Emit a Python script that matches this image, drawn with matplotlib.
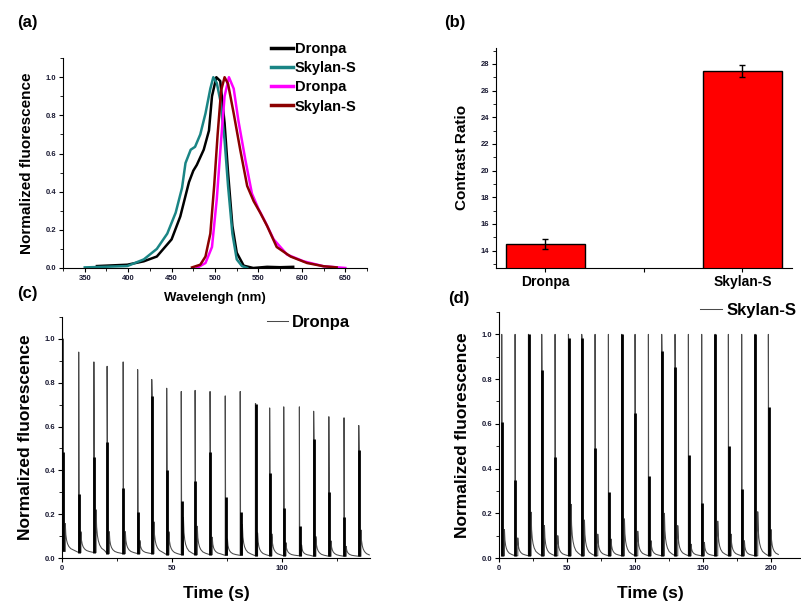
import matplotlib
matplotlib.use('Agg')
import matplotlib.pyplot as plt
import numpy as np

plt.rcParams['font.family'] = ['Liberation Sans', 'DejaVu Sans']

# ---- panel (a): spectra (nm, normalized) ----
dronpa_ex_x = [364, 399, 418, 433, 450, 460, 470, 475, 479, 487, 493, 496.5, 501.5, 506, 511, 515, 520, 525, 533, 544, 560, 575, 590]
dronpa_ex_y = [0.01, 0.017, 0.035, 0.06, 0.15, 0.27, 0.45, 0.51, 0.54, 0.62, 0.72, 0.90, 1.0, 0.98, 0.76, 0.50, 0.22, 0.08, 0.012, 0.0, 0.006, 0.004, 0.006]
skylan_ex_x = [350, 399, 418, 433, 445, 454.7, 462, 466, 472, 477, 483, 489, 494.6, 498, 502, 506, 511, 515, 520, 525, 531, 537]
skylan_ex_y = [0.003, 0.01, 0.045, 0.10, 0.18, 0.29, 0.42, 0.55, 0.62, 0.635, 0.70, 0.81, 0.94, 1.0, 0.97, 0.88, 0.67, 0.43, 0.18, 0.045, 0.01, 0.0]
dronpa_em_x = [479, 489, 496.5, 502, 507, 511, 516, 521.5, 527, 535, 542.5, 550, 558, 567.5, 583, 602, 625, 650]
dronpa_em_y = [0.0, 0.026, 0.11, 0.36, 0.67, 0.90, 1.0, 0.94, 0.77, 0.565, 0.39, 0.31, 0.24, 0.15, 0.07, 0.035, 0.009, 0.0]
skylan_em_x = [473.5, 483, 489, 494.6, 499, 503, 507, 511, 515, 521.5, 529, 537, 544.5, 552, 560, 571, 587, 606, 625, 640]
skylan_em_y = [0.003, 0.017, 0.06, 0.18, 0.43, 0.70, 0.93, 1.0, 0.965, 0.81, 0.62, 0.43, 0.35, 0.29, 0.22, 0.11, 0.06, 0.026, 0.009, 0.003]

# ---- panel (b): contrast ratio ----
proteins = ['Dronpa', 'Skylan-S']
contrast = [14.5, 27.5]
contrast_err = [0.4, 0.45]

# ---- panel (c): Dronpa switching cycles ----
c_t0 = [0.5, 7.6, 14.5, 20.5, 27.8, 34.4, 40.8, 47.6, 54.2, 60.5, 67.3, 74.2, 81.0, 87.9, 94.4, 100.8, 107.9, 114.4, 121.3, 128.2, 134.9]
c_peak = [1.0, 0.94, 0.895, 0.875, 0.895, 0.86, 0.815, 0.775, 0.76, 0.765, 0.76, 0.74, 0.76, 0.705, 0.685, 0.69, 0.69, 0.67, 0.645, 0.64, 0.605]
c_mid = [0.485, 0.29, 0.46, 0.53, 0.32, 0.21, 0.74, 0.40, 0.26, 0.35, 0.485, 0.28, 0.21, 0.705, 0.39, 0.23, 0.145, 0.545, 0.30, 0.185, 0.495]
c_small = [0.127, 0.095, 0.195, 0.10, 0.10, 0.06, 0.145, 0.105, 0.17, 0.13, 0.08, 0.075, 0.14, 0.105, 0.10, 0.06, 0.05, 0.09, 0.07, 0.045, 0.12]
c_base = [0.03, 0.025, 0.025, 0.02, 0.02, 0.02, 0.02, 0.015, 0.015, 0.015, 0.015, 0.012, 0.012, 0.01, 0.01, 0.01, 0.01, 0.008, 0.008, 0.008, 0.008]

# ---- panel (d): Skylan-S switching cycles ----
d_t0 = [2.0, 11.8, 21.6, 31.4, 41.2, 51.0, 60.8, 70.6, 80.4, 90.2, 100.0, 109.8, 119.6, 129.4, 139.2, 149.0, 158.8, 168.6, 178.4, 188.2, 198.0]
d_peak = [1.0] * 21
d_mid = [0.61, 0.35, 1.0, 0.84, 0.45, 0.985, 0.985, 0.49, 0.295, 1.0, 0.65, 0.365, 0.925, 0.855, 0.46, 0.245, 1.0, 0.50, 0.31, 1.0, 0.675]
d_small = [0.117, 0.08, 0.195, 0.135, 0.09, 0.23, 0.16, 0.097, 0.075, 0.165, 0.11, 0.067, 0.19, 0.135, 0.052, 0.06, 0.155, 0.097, 0.067, 0.197, 0.117]
d_base = [0.01] * 21

# decay shape after the small spike (seconds after spike, fraction of spike height)
decay_dt = [0.0, 0.25, 0.6, 1.0, 1.6, 2.5, 3.8]
decay_frac = [1.0, 0.6, 0.4, 0.28, 0.18, 0.1, 0.05]

tick_kw = dict(labelsize=5.5, direction='out', length=3, width=0.8, pad=2)
lab_font = dict(fontweight='bold')


def style(ax):
    ax.spines['top'].set_visible(False)
    ax.spines['right'].set_visible(False)
    ax.tick_params(which='major', **tick_kw)
    ax.tick_params(which='minor', direction='out', length=2, width=0.6)
    for lbl in ax.get_xticklabels() + ax.get_yticklabels():
        lbl.set_fontweight('bold')
        lbl.set_color('#1a1a33')


def trace(t0, peak, mid, small, base, delay, stretch):
    xs, ys, thick = [], [], []
    for i in range(len(t0)):
        xs += [t0[i], t0[i], t0[i] + 0.15, t0[i] + 0.3]
        ys += [base[i], peak[i], mid[i], base[i]]
        thick.append((t0[i] + 0.15, base[i], mid[i]))
        ts = t0[i] + delay
        xs.append(ts)
        ys.append(base[i])
        for dt, fr in zip(decay_dt, decay_frac):
            xs.append(ts + dt * stretch)
            ys.append(base[i] + small[i] * fr)
    return xs, ys, thick


fig = plt.figure(figsize=(8.01, 6.03), dpi=100)

# (a)
ax1 = fig.add_axes([0.0787, 0.5556, 0.3795, 0.348])
ax1.plot(dronpa_ex_x, dronpa_ex_y, color='black', lw=1.8, label='Dronpa')
ax1.plot(skylan_ex_x, skylan_ex_y, color='#1a8585', lw=1.8, label='Skylan-S')
ax1.plot(dronpa_em_x, dronpa_em_y, color='#ff00ff', lw=1.8, label='Dronpa')
ax1.plot(skylan_em_x, skylan_em_y, color='#8b0000', lw=1.8, label='Skylan-S')
ax1.set_xlim(326, 675)
ax1.set_ylim(0, 1.1)
ax1.set_xticks(np.arange(350, 651, 50))
ax1.set_xticks(np.arange(325, 676, 25), minor=True)
ax1.set_yticks(np.arange(0, 1.01, 0.2))
ax1.set_yticks(np.arange(0, 1.11, 0.1), minor=True)
ax1.yaxis.set_major_formatter(matplotlib.ticker.FormatStrFormatter('%.1f'))
ax1.set_ylabel('Normalized fluorescence', fontsize=11, labelpad=8, **lab_font)
ax1.set_xlabel('Wavelengh (nm)', fontsize=9.5, labelpad=7, **lab_font)
style(ax1)
leg = ax1.legend(loc='upper left', bbox_to_anchor=(0.338, 0.93), bbox_transform=fig.transFigure,
                 borderaxespad=0, borderpad=0, frameon=False, handlelength=1.5, handletextpad=0.15,
                 labelspacing=0.35, prop={'weight': 'bold', 'size': 10.5})
for h in leg.get_lines():
    h.set_linewidth(2.5)
fig.text(0.021, 0.955, '(a)', fontsize=12, fontweight='bold')

# (b)
ax2 = fig.add_axes([0.619, 0.5556, 0.3695, 0.365])
pos = np.arange(len(proteins))
ax2.bar(pos, contrast, 0.4, color='#ff0000', edgecolor='black', linewidth=1.0)
ax2.errorbar(pos, contrast, yerr=contrast_err, fmt='none', ecolor='black', elinewidth=1.0, capsize=2.5, capthick=1.0)
ax2.set_xlim(-0.25, 1.25)
ax2.set_ylim(12.7, 29.2)
ax2.set_xticks([0, 0.5, 1])
ax2.set_xticklabels(['Dronpa', '', 'Skylan-S'])
ax2.set_yticks(np.arange(14, 29, 2))
ax2.set_yticks(np.arange(13, 30, 1), minor=True)
ax2.set_ylabel('Contrast Ratio', fontsize=11, labelpad=8, **lab_font)
style(ax2)
for lbl in ax2.get_xticklabels():
    lbl.set_fontsize(10)
    lbl.set_color('black')
fig.text(0.555, 0.955, '(b)', fontsize=12, fontweight='bold')

# (c)
ax3 = fig.add_axes([0.0774, 0.0746, 0.3845, 0.3997])
xs, ys, thick = trace(c_t0, c_peak, c_mid, c_small, c_base, 1.0, 1.0)
ax3.plot(xs, ys, color='#4a4a4a', lw=0.75, label='Dronpa')
ax3.vlines([a for a, b, c in thick], [b for a, b, c in thick], [c for a, b, c in thick], color='black', lw=2.0)
ax3.set_xlim(0, 140)
ax3.set_ylim(0, 1.1)
ax3.set_xticks([0, 50, 100])
ax3.set_xticks(np.arange(0, 141, 25), minor=True)
ax3.set_yticks(np.arange(0, 1.01, 0.2))
ax3.set_yticks(np.arange(0, 1.11, 0.1), minor=True)
ax3.yaxis.set_major_formatter(matplotlib.ticker.FormatStrFormatter('%.1f'))
ax3.set_ylabel('Normalized fluorescence', fontsize=12.5, labelpad=8, **lab_font)
ax3.set_xlabel('Time (s)', fontsize=12.5, labelpad=10, **lab_font)
style(ax3)
ax3.legend(loc='upper left', bbox_to_anchor=(0.333, 0.478), bbox_transform=fig.transFigure,
           borderaxespad=0, borderpad=0, frameon=False, handlelength=1.3, handletextpad=0.2,
           prop={'size': 12, 'weight': 'bold'})
fig.text(0.021, 0.505, '(c)', fontsize=12, fontweight='bold')

# (d)
ax4 = fig.add_axes([0.623, 0.0746, 0.377, 0.408])
xs, ys, thick = trace(d_t0, d_peak, d_mid, d_small, d_base, 2.0, 1.4)
ax4.plot(xs, ys, color='#4a4a4a', lw=0.75, label='Skylan-S')
ax4.vlines([a for a, b, c in thick], [b for a, b, c in thick], [c for a, b, c in thick], color='black', lw=2.0)
ax4.set_xlim(0, 222)
ax4.set_ylim(0, 1.1)
ax4.set_xticks([0, 50, 100, 150, 200])
ax4.set_xticks(np.arange(0, 223, 25), minor=True)
ax4.set_yticks(np.arange(0, 1.01, 0.2))
ax4.set_yticks(np.arange(0, 1.11, 0.1), minor=True)
ax4.yaxis.set_major_formatter(matplotlib.ticker.FormatStrFormatter('%.1f'))
ax4.set_ylabel('Normalized fluorescence', fontsize=12.5, labelpad=8, **lab_font)
ax4.set_xlabel('Time (s)', fontsize=12.5, labelpad=10, **lab_font)
style(ax4)
ax4.legend(loc='upper left', bbox_to_anchor=(0.874, 0.497), bbox_transform=fig.transFigure,
           borderaxespad=0, borderpad=0, frameon=False, handlelength=1.3, handletextpad=0.3,
           prop={'size': 12, 'weight': 'bold'})
fig.text(0.56, 0.497, '(d)', fontsize=12, fontweight='bold')

fig.savefig('out.png', dpi=100)
